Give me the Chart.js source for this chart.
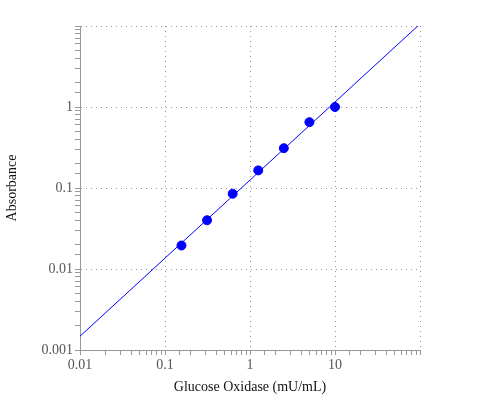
<!DOCTYPE html>
<html>
<head>
<script src="https://cdn.jsdelivr.net/npm/chart.js@4"></script>
<style>body{margin:0;background:#fff}#wrap{width:500px;height:400px}</style>
</head>
<body>
<div id="wrap"><canvas id="c"></canvas></div>
<script>
// Dados
const concentrations = [0.15625, 0.3125, 0.625, 1.25, 2.5, 5, 10];
const absorbances = [0.0195, 0.040, 0.085, 0.165, 0.31, 0.65, 1.0];
const fitX = [0.01, 100];
const fitY = [0.00148, 10.6];
const xMajor = [0.01, 0.1, 1, 10];
const yMajor = [0.001, 0.01, 0.1, 1];

const isMajor = v => Math.abs(Math.log10(v) - Math.round(Math.log10(v))) < 1e-6;
const fmt = v => String(Number(v.toPrecision(3)));

function axis(min, max, majors, title, isX) {
    return {
        type: 'logarithmic', min, max,
        border: { color: '#999', width: 1, dash: [1, 4] },
        grid: {
            color: c => isMajor(c.tick.value) ? '#999' : 'rgba(0,0,0,0)',
            tickColor: '#999', tickLength: 5, drawOnChartArea: true
        },
        ticks: {
            autoSkip: false, maxRotation: 0, color: '#555', padding: 2,
            font: { family: 'Liberation Serif', size: 14 },
            callback: v => majors.some(m => Math.abs(m - v) / m < 1e-6) ? fmt(v) : ''
        },
        title: { display: true, text: title, color: '#111', font: { family: 'Liberation Serif', size: 14 } },
        afterFit: s => { if (isX) s.height = 50; else s.width = 80; }
    };
}

new Chart(document.getElementById('c'), {
    type: 'scatter',
    data: {
        datasets: [
            {
                data: fitX.map((x, i) => ({ x, y: fitY[i] })),
                showLine: true, borderColor: '#0000ff', borderWidth: 1, pointRadius: 0
            },
            {
                data: concentrations.map((x, i) => ({ x, y: absorbances[i] })),
                backgroundColor: '#0000ff', borderColor: '#0000ff', pointRadius: 4.5
            }
        ]
    },
    options: {
        responsive: true, maintainAspectRatio: false, animation: false,
        layout: { padding: { left: 0, top: 26, right: 80, bottom: 0 } },
        plugins: { legend: { display: false }, tooltip: { enabled: false } },
        scales: {
            x: axis(0.01, 100, xMajor, 'Glucose Oxidase (mU/mL)', true),
            y: axis(0.001, 10, yMajor, 'Absorbance', false)
        }
    }
});
</script>
</body>
</html>
